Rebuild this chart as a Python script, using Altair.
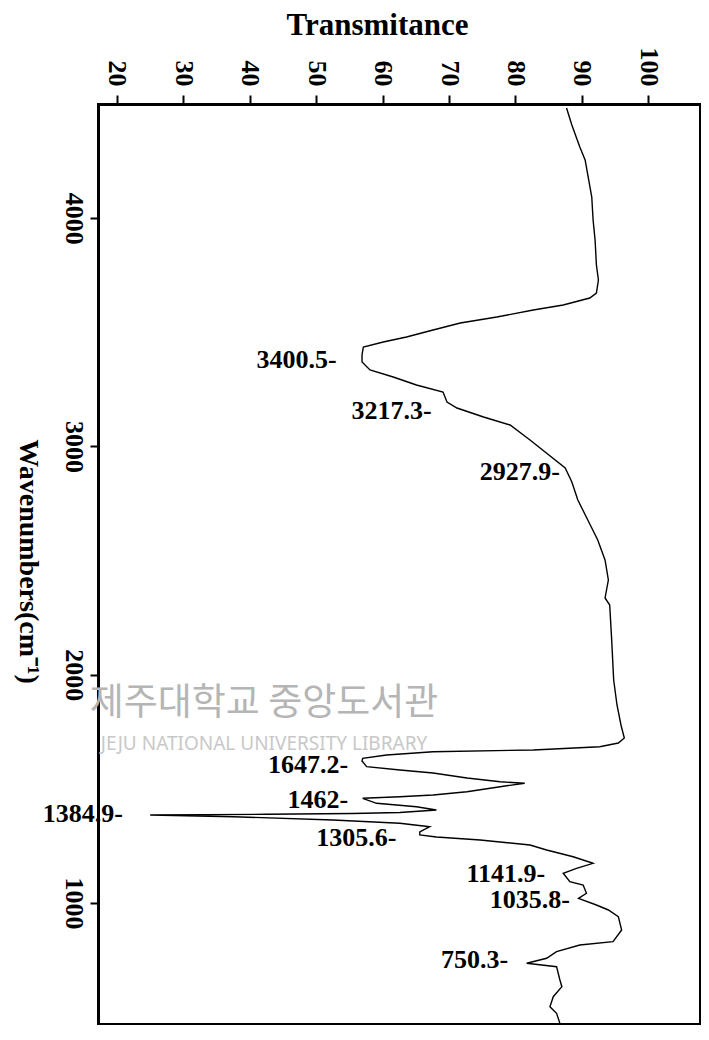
import altair as alt
import pandas as pd

# ---- spectrum (wavenumber cm-1, transmittance %) ----
wavenumber = [
    4482.5, 4408.0, 4311.6, 4254.7, 4092.6, 3991.9, 3904.3, 3794.8, 3729.0, 3672.1,
    3650.2, 3619.5, 3597.6, 3567.0, 3540.7, 3510.0, 3479.4, 3457.5, 3435.6, 3400.5,
    3369.9, 3334.8, 3304.1, 3269.1, 3238.4, 3194.6, 3168.4, 3128.9, 3093.9, 3028.2,
    2905.5, 2844.0, 2765.4, 2677.8, 2590.1, 2502.5, 2414.9, 2336.1, 2305.4, 2152.1,
    1976.9, 1867.4, 1779.8, 1722.8, 1700.9, 1684.7, 1670.3, 1662.8, 1648.4, 1633.9,
    1622.1, 1597.1, 1582.7, 1569.5, 1547.6, 1531.4, 1524.4, 1509.5, 1487.6, 1473.1,
    1465.7, 1458.7, 1436.8, 1421.9, 1407.4, 1396.5, 1392.1, 1388.6, 1385.5, 1378.1,
    1363.6, 1349.2, 1334.3, 1311.1, 1297.9, 1289.1, 1276.0, 1254.0, 1232.1, 1202.8,
    1173.9, 1152.0, 1130.1, 1093.3, 1078.9, 1042.5, 1020.6, 991.3, 969.4, 940.1,
    881.8, 830.6, 816.1, 786.8, 757.8, 735.9, 721.0, 662.8, 633.4, 589.6,
    545.8, 516.9, 473.0, 422.0,
]
transmittance = [
    87.7, 88.5, 89.7, 90.5, 91.5, 91.7, 92.0, 92.2, 92.5, 92.2,
    91.2, 87.2, 82.7, 77.2, 71.7, 67.6, 63.6, 60.1, 57.1, 56.9,
    56.9, 58.1, 61.6, 65.1, 69.1, 69.7, 71.2, 75.2, 79.2, 82.2,
    87.5, 88.5, 89.4, 90.9, 92.4, 93.5, 94.0, 93.5, 94.2, 94.5,
    94.8, 95.3, 95.9, 96.4, 95.5, 92.7, 82.7, 67.6, 60.6, 57.0,
    56.9, 57.6, 62.6, 67.6, 72.7, 77.7, 81.4, 77.7, 72.7, 67.6,
    62.6, 57.0, 59.1, 65.1, 68.1, 62.6, 55.5, 42.5, 25.0, 37.5,
    52.5, 62.6, 67.1, 65.6, 65.6, 68.1, 74.7, 82.2, 84.7, 88.7,
    91.7, 89.2, 87.2, 88.2, 90.2, 90.7, 89.5, 92.2, 94.0, 95.5,
    96.0, 94.7, 89.7, 86.2, 84.7, 81.7, 86.2, 86.7, 87.0, 85.7,
    85.2, 86.2, 86.7, 85.7,
]

# ---- peak annotations ----
peak_labels = ["3400.5-", "3217.3-", "2927.9-", "1647.2-", "1462-",
               "1384.9-", "1305.6-", "1141.9-", "1035.8-", "750.3-"]
label_wavenumber = [3378.6, 3155.0, 2888.0, 1604.6, 1451.0,
                    1390.0, 1284.7, 1127.0, 1013.0, 750.4]
label_transmittance = [53.1, 67.4, 86.7, 54.8, 54.8,
                       20.9, 62.1, 84.5, 88.2, 78.9]

x_ticks = [20, 30, 40, 50, 60, 70, 80, 90, 100]
y_ticks = [4000, 3000, 2000, 1000]

watermark_ko = ["제주대학교 중앙도서관"]
watermark_en = ["JEJU NATIONAL UNIVERSITY  LIBRARY"]

spec = pd.DataFrame({"idx": list(range(len(wavenumber))),
                     "W": wavenumber, "T": transmittance})
labs = pd.DataFrame({"text": peak_labels, "W": label_wavenumber,
                     "T": label_transmittance})

SERIF = "Liberation Serif"
x_scale = alt.Scale(domain=[17.14, 107.8], nice=False, zero=False)
y_scale = alt.Scale(domain=[470, 4500], nice=False, zero=False)

x_axis = alt.Axis(
    orient="top", values=x_ticks, title="Transmitance", format="d",
    labelAngle=90, labelAlign="right", labelBaseline="middle",
    labelFont=SERIF, labelFontWeight="bold", labelFontSize=26,
    labelPadding=9, labelFlush=False, labelOverlap=False, labelBound=False,
    tickSize=9, tickWidth=2, tickColor="black",
    domainColor="black", domainWidth=3,
    titleFont=SERIF, titleFontWeight="bold", titleFontSize=31,
    titleX=279, titleY=-70, titleAlign="center", titleBaseline="alphabetic",
    titleAngle=0, grid=False, labelColor="black", titleColor="black",
)
y_axis = alt.Axis(
    orient="left", values=y_ticks, title="Wavenumbers(cm⁻¹)", format="d",
    labelAngle=90, labelAlign="center", labelBaseline="top",
    labelFont=SERIF, labelFontWeight="bold", labelFontSize=26,
    labelPadding=4, labelFlush=False, labelOverlap=False, labelBound=False,
    tickSize=8, tickWidth=2, tickColor="black",
    domainColor="black", domainWidth=3,
    titleFont=SERIF, titleFontWeight="bold", titleFontSize=28,
    titleX=-71, titleY=457, titleAlign="center", titleBaseline="middle",
    titleAngle=90, grid=False, labelColor="black", titleColor="black",
)

wm_ko = alt.Chart(pd.DataFrame({"t": watermark_ko})).mark_text(
    font="Noto Sans CJK KR", fontSize=37, color="#b5b5b5", align="center",
    baseline="middle"
).encode(x=alt.value(166), y=alt.value(600), text="t:N")

wm_en = alt.Chart(pd.DataFrame({"t": watermark_en})).mark_text(
    font="Noto Sans", fontSize=19, color="#c8c8c8", align="center",
    baseline="middle"
).encode(x=alt.value(166), y=alt.value(640), text="t:N")

line = alt.Chart(spec).mark_line(color="black", strokeWidth=1.4, clip=True).encode(
    x=alt.X("T:Q", scale=x_scale, axis=x_axis),
    y=alt.Y("W:Q", scale=y_scale, axis=y_axis),
    order=alt.Order("idx:Q"),
)

labels = alt.Chart(labs).mark_text(
    align="right", baseline="middle", font=SERIF, fontWeight="bold",
    fontSize=26, color="black"
).encode(
    x=alt.X("T:Q", scale=x_scale, axis=x_axis),
    y=alt.Y("W:Q", scale=y_scale, axis=y_axis),
    text="text:N",
)

chart = alt.layer(wm_ko, wm_en, line, labels).properties(
    width=602, height=920,
    autosize=alt.AutoSizeParams(type="none"),
    padding={"left": 90, "top": 96, "right": 1, "bottom": 2},
    background="white",
).configure_view(stroke="black", strokeWidth=2)

chart.save("out.html", embed_options={"renderer": "svg", "actions": False})
